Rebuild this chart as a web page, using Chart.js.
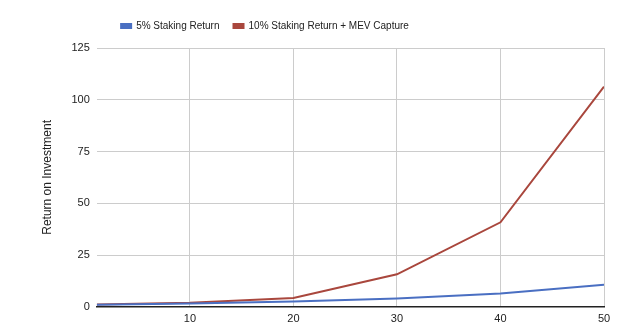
<!DOCTYPE html>
<html>
<head>
<meta charset="utf-8">
<script src="https://cdn.jsdelivr.net/npm/chart.js@4.4.0/dist/chart.umd.min.js"></script>
<style>
  html, body { margin: 0; padding: 0; background: #ffffff; }
  #wrap { width: 638px; height: 334px; position: relative; }
</style>
</head>
<body>
<div id="wrap"><canvas id="myChart"></canvas></div>
<script>
	// Jahre (x) und Werte
	var years = [1, 10, 20, 30, 40, 50];
	var staking5 = [1.05, 1.6, 2.6, 4.0, 6.4, 10.7];
	var staking10mev = [1.1, 2.0, 4.3, 15.7, 40.8, 106.3];
	var yTicks = [0, 25, 50, 75, 100, 125];
	var xTicks = [10, 20, 30, 40, 50];

	var label_blue = '5% Staking Return';
	var label_red = '10% Staking Return + MEV Capture';
	var color_blue = '#4a6fc2';
	var color_red = '#a9473d';

	var legend_shift = -55; // Legende sitzt im Original links von der Mitte
	var legend_extra = 7;

	function toPoints(xs, ys) {
	  var pts = [];
	  for (var i = 0; i < xs.length; i++) {
		pts.push({x: xs[i], y: ys[i]});
	  }
	  return pts;
	}

	var legendTweak = {
	  id: 'legendTweak',
	  beforeInit: function(chart) {
		if (!chart.legend) return;
		var fit = chart.legend.fit;
		chart.legend.fit = function() {
		  fit.bind(chart.legend)();
		  this.height += legend_extra;
		};
	  },
	  afterLayout: function(chart) {
		if (!chart.legend) return;
		chart.legend.left += legend_shift;
		chart.legend.right += legend_shift;
	  }
	};

	Chart.defaults.font.family = "'Liberation Sans', Arial, sans-serif";
	Chart.defaults.color = '#222222';

	var ctx = document.getElementById('myChart').getContext('2d');
	var chart = new Chart(ctx, {
	  type: 'line',
	  data: {
		datasets: [
		  {
			label: label_blue,
			data: toPoints(years, staking5),
			borderColor: color_blue,
			backgroundColor: color_blue,
			borderWidth: 2,
			pointRadius: 0,
			fill: false
		  },
		  {
			label: label_red,
			data: toPoints(years, staking10mev),
			borderColor: color_red,
			backgroundColor: color_red,
			borderWidth: 2,
			pointRadius: 0,
			fill: false
		  }
		]
	  },
	  plugins: [legendTweak],
	  options: {
		responsive: true,
		maintainAspectRatio: false,
		animation: false,
		layout: { padding: { left: 36, right: 34, top: 7, bottom: 2 } },
		plugins: {
		  tooltip: { enabled: false },
		  legend: {
			position: 'top',
			labels: {
			  boxWidth: 10,
			  boxHeight: 4,
			  padding: 14,
			  font: { size: 10 },
			  color: '#222222'
			}
		  }
		},
		scales: {
		  x: {
			type: 'linear',
			min: 1,
			max: 50,
			afterBuildTicks: function(scale) {
			  scale.ticks = xTicks.map(function(v) { return {value: v}; });
			},
			grid: { color: '#cccccc', drawTicks: false },
			border: { display: true, color: '#222222', width: 1.5 },
			ticks: { padding: 6, font: { size: 11 }, maxRotation: 0 }
		  },
		  y: {
			min: 0,
			max: 125,
			afterBuildTicks: function(scale) {
			  scale.ticks = yTicks.map(function(v) { return {value: v}; });
			},
			grid: { color: '#cccccc', drawTicks: false },
			border: { display: false },
			ticks: { padding: 7, font: { size: 11 } },
			title: {
			  display: true,
			  text: 'Return on Investment',
			  font: { size: 12 },
			  color: '#222222',
			  padding: { top: 4, bottom: 10 }
			}
		  }
		}
	  }
	});
</script>
</body>
</html>
